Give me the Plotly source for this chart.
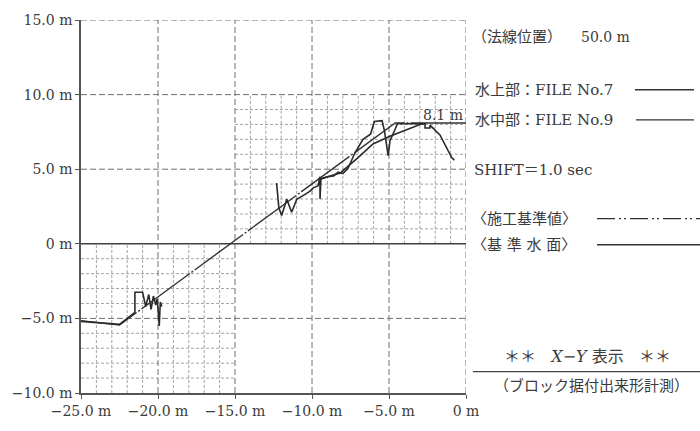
import plotly.graph_objects as go

# ---- data -------------------------------------------------------------
# design section (施工基準値)
design_x = [-25.0, -22.5, -4.6, 0.0]
design_y = [-5.15, -5.45, 8.1, 8.1]
design_top = 8.1

# reference water level (基準水面)
water_x = [-25.0, 0.0]
water_y = [0.0, 0.0]

# above-water survey, FILE No.7
file7_x = [-12.3, -12.15, -11.97, -11.64, -11.32, -10.99, -10.45, -10.13, -9.92,
           -9.6, -9.48, -9.48, -9.42, -9.0, -8.6, -8.3, -8.0, -7.66, -7.21, -6.69,
           -6.2, -5.95, -5.45, -5.3, -5.05, -4.94, -4.61, -4.45, -2.66, -2.66,
           -2.34, -2.34, -1.69, -1.3, -0.93, -0.75]
file7_y = [4.07, 2.4, 1.9, 2.99, 2.12, 2.99, 3.31, 3.53, 3.75,
           3.9, 4.5, 3.0, 4.35, 4.5, 4.55, 4.8, 4.7, 5.06, 6.1, 7.0,
           7.35, 8.2, 8.25, 7.6, 5.9, 6.9, 7.66, 8.05, 8.05, 7.76,
           7.76, 7.95, 7.3, 6.5, 5.78, 5.6]

# underwater survey, FILE No.9 (two runs separated by a gap)
file9_x = [-25.0, -22.5, -21.5, -21.5, -21.0, -20.8, -20.6, -20.45, -20.3, -20.15,
           -20.05, -19.92, -19.85, -19.75, None,
           -9.61, -8.18, -7.08, -6.04, -4.94, -3.83, -2.99, -2.7]
file9_y = [-5.2, -5.4, -4.6, -3.25, -3.25, -4.2, -3.4, -4.4, -3.5, -4.1,
           -3.7, -5.5, -3.9, -4.2, None,
           4.29, 4.74, 5.71, 6.69, 7.21, 7.66, 7.99, 8.05]

# axes
x_ticks = [-25, -20, -15, -10, -5, 0]
x_tick_text = ["−25.0 m", "−20.0 m", "−15.0 m", "−10.0 m", "−5.0 m", "0 m"]
y_ticks = [15, 10, 5, 0, -5, -10]
y_tick_text = ["15.0 m", "10.0 m", "5.0 m", "0 m", "−5.0 m", "−10.0 m"]
x_range = [-25, 0]
y_range = [-10, 15]

# ---- styling ------------------------------------------------------------
W, H = 700, 431
ML, MR, MT, MB = 81, 234, 15, 31
FONT = "DejaVu Serif, Noto Sans CJK JP, serif"
INK = "#3a3a3a"
LINE = "#2a2a2a"


def px_x(px):
    return (px - ML) / (W - ML - MR)


def px_y(py):
    return (H - MB - py) / (H - MT - MB)


fig = go.Figure()

# water level and design section
fig.add_trace(go.Scatter(x=water_x, y=water_y, mode="lines",
                         line=dict(color="#404040", width=1.5), hoverinfo="skip"))
fig.add_trace(go.Scatter(x=design_x, y=design_y, mode="lines",
                         line=dict(color="#333333", width=1.4, dash="60px,2px,2px,2px"),
                         hoverinfo="skip"))
# survey lines
fig.add_trace(go.Scatter(x=file9_x, y=file9_y, mode="lines", connectgaps=False,
                         line=dict(color=LINE, width=1.6), hoverinfo="skip"))
fig.add_trace(go.Scatter(x=file7_x, y=file7_y, mode="lines",
                         line=dict(color=LINE, width=1.6), hoverinfo="skip"))

shapes = []
# fine 1 m grid in the two working windows
fine = dict(color="#8c8c8c", width=0.8, dash="3px,2px")
for x0, x1, y0, y1 in [(-25, -15, -10, 0), (-15, 0, 0, 10)]:
    for gx in range(x0 + 1, x1):
        if gx % 5:
            shapes.append(dict(type="line", xref="x", yref="y", x0=gx, x1=gx,
                               y0=y0, y1=y1, line=fine, layer="below"))
    for gy in range(y0 + 1, y1):
        if gy % 5:
            shapes.append(dict(type="line", xref="x", yref="y", x0=x0, x1=x1,
                               y0=gy, y1=gy, line=fine, layer="below"))
# major 5 m grid
major = dict(color="#707070", width=1, dash="6px,3px")
for gx in x_ticks[1:]:
    shapes.append(dict(type="line", xref="x", yref="y", x0=gx, x1=gx,
                       y0=y_range[0], y1=y_range[1], line=major, layer="below"))
for gy in [15, 10, 5, -5]:
    shapes.append(dict(type="line", xref="x", yref="y", x0=x_range[0], x1=x_range[1],
                       y0=gy, y1=gy, line=major, layer="below"))

# legend sample lines beside the plot
solid = dict(color="#333", width=1.3)
shapes += [
    dict(type="line", xref="paper", yref="paper", x0=px_x(635), x1=px_x(694),
         y0=px_y(87), y1=px_y(87), line=solid),
    dict(type="line", xref="paper", yref="paper", x0=px_x(636), x1=px_x(694),
         y0=px_y(118), y1=px_y(118), line=solid),
    dict(type="line", xref="paper", yref="paper", x0=px_x(597), x1=px_x(700),
         y0=px_y(220), y1=px_y(220),
         line=dict(color="#333", width=1.3, dash="18px,4px,2px,3px,2px,4px")),
    dict(type="line", xref="paper", yref="paper", x0=px_x(597), x1=px_x(700),
         y0=px_y(247), y1=px_y(247), line=solid),
    dict(type="line", xref="paper", yref="paper", x0=px_x(473), x1=px_x(700),
         y0=px_y(378), y1=px_y(378), line=dict(color="#444", width=1.2)),
]


def note(text, px, py, size=15, anchor="left"):
    return dict(text=text, xref="paper", yref="paper", x=px_x(px), y=px_y(py),
                xanchor=anchor, yanchor="middle", showarrow=False,
                font=dict(family=FONT, size=size, color=INK))


annotations = [
    note("（法線位置）", 470, 33),
    note("50.0 m", 579, 33, size=14),
    note("水上部：FILE No.7", 473, 87),
    note("水中部：FILE No.9", 473, 118),
    note("SHIFT＝1.0 sec", 472, 170),
    note("〈施工基準値〉", 470, 220),
    note("〈基 準 水 面〉", 470, 247),
    note("＊＊   <i>X</i>−<i>Y</i> 表示   ＊＊", 587, 362, size=16, anchor="center"),
    note("（ブロック据付出来形計測）", 591, 393, size=15, anchor="center"),
    dict(text=f"{design_top} m", xref="x", yref="y", x=-1.5, y=design_top,
         xanchor="center", yanchor="bottom", showarrow=False, yshift=-2,
         font=dict(family=FONT, size=14, color=INK)),
]

axis_common = dict(showgrid=False, zeroline=False, showline=True,
                   linecolor="#555", linewidth=1.5, ticks="outside",
                   ticklen=4, tickcolor="#555", mirror=False,
                   tickfont=dict(family=FONT, size=14, color=INK))

fig.update_layout(
    width=W, height=H,
    margin=dict(l=ML, r=MR, t=MT, b=MB),
    paper_bgcolor="white", plot_bgcolor="white",
    showlegend=False,
    shapes=shapes, annotations=annotations,
    xaxis=dict(range=x_range, tickvals=x_ticks, ticktext=x_tick_text, **axis_common),
    yaxis=dict(range=y_range, tickvals=y_ticks, ticktext=y_tick_text, **axis_common),
)

fig.write_html("out.html")
